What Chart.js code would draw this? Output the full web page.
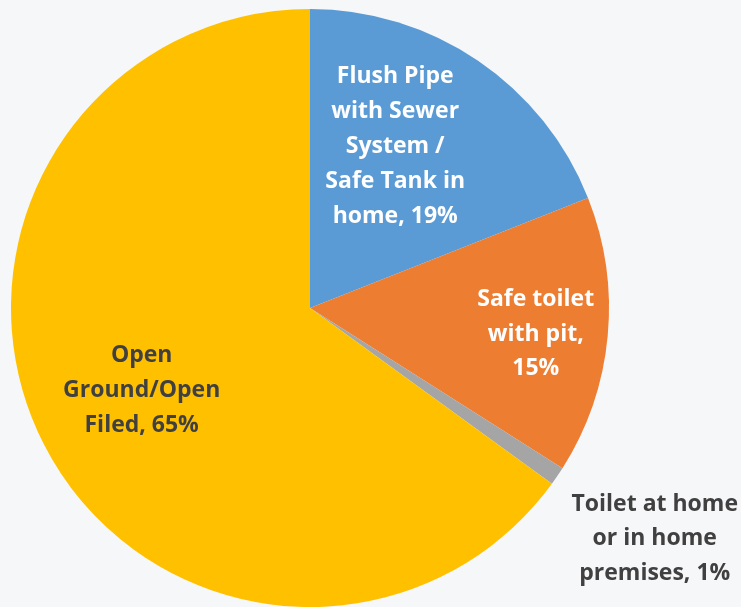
<!DOCTYPE html>
<html>
<head>
<meta charset="utf-8">
<script src="https://cdn.jsdelivr.net/npm/chart.js@4"></script>
<style>
  html, body { margin: 0; padding: 0; background: #f6f7f9; }
  #wrap { width: 741px; height: 607px; position: relative; }
</style>
</head>
<body>
<div id="wrap"><canvas id="c" width="741" height="607"></canvas></div>
<script>
// Sanitation facility shares (%)
const categories = [
  'Flush Pipe with Sewer System / Safe Tank in home',
  'Safe toilet with pit',
  'Toilet at home or in home premises',
  'Open Ground/Open Filed'
];
const shares = [19, 15, 1, 65];
// Label text, one entry per line
const labelLines = [
  ['Flush Pipe', 'with Sewer', 'System /', 'Safe Tank in', 'home, 19%'],
  ['Safe toilet', 'with pit,', '15%'],
  ['Toilet at home', 'or in home', 'premises, 1%'],
  ['Open', 'Ground/Open', 'Filed, 65%']
];

const sliceColors = ['#5b9bd5', '#ed7d31', '#a5a5a5', '#ffc000'];
const labelColors = ['#ffffff', '#ffffff', '#404040', '#404040'];
// label centre, as a fraction of the radius from the pie centre
const labelOffsets = [[0.285, -0.54], [0.755, 0.087], [1.153, 0.772], [-0.563, 0.276]];

const sliceLabels = {
  id: 'sliceLabels',
  afterDatasetsDraw(chart) {
    const ctx = chart.ctx;
    const meta = chart.getDatasetMeta(0);
    ctx.save();
    ctx.font = 'bold 23px "Open Sans", Lato, sans-serif';
    ctx.textAlign = 'center';
    ctx.textBaseline = 'middle';
    const lh = 34.8;
    meta.data.forEach((arc, i) => {
      const r = arc.outerRadius;
      const cx = arc.x + labelOffsets[i][0] * r;
      const cy = arc.y + labelOffsets[i][1] * r;
      const lines = labelLines[i];
      ctx.fillStyle = labelColors[i];
      lines.forEach((t, k) => {
        ctx.fillText(t, cx, cy + (k - (lines.length - 1) / 2) * lh);
      });
    });
    ctx.restore();
  }
};

new Chart(document.getElementById('c'), {
  type: 'pie',
  data: {
    labels: categories,
    datasets: [{
      data: shares,
      backgroundColor: sliceColors,
      borderWidth: 0
    }]
  },
  options: {
    responsive: false,
    animation: false,
    layout: { padding: { left: 11, right: 132, top: 9, bottom: 0 } },
    plugins: {
      legend: { display: false },
      tooltip: { enabled: false }
    }
  },
  plugins: [sliceLabels]
});
</script>
</body>
</html>
